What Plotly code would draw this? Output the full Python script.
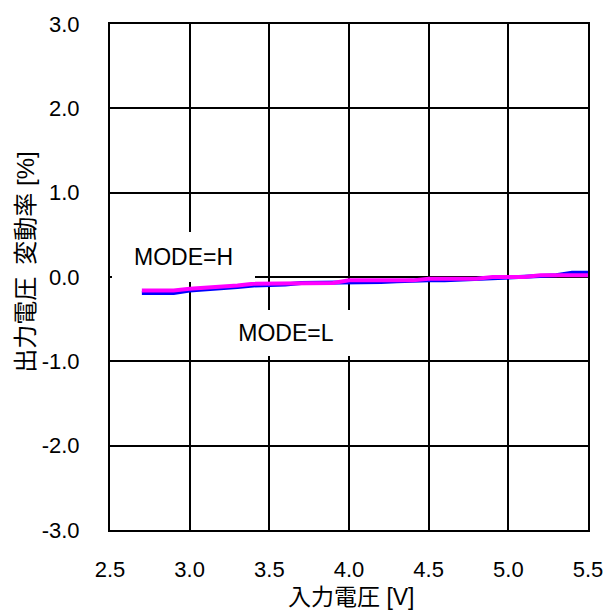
import plotly.graph_objects as go

# Data
vin = [2.7, 2.8, 2.9, 3.0, 3.1, 3.2, 3.3, 3.4, 3.5, 3.6, 3.7, 3.8, 3.9, 4.0,
       4.1, 4.2, 4.3, 4.4, 4.5, 4.6, 4.7, 4.8, 4.9, 5.0, 5.1, 5.2, 5.3, 5.4, 5.5]
mode_l = [-0.19, -0.19, -0.19, -0.16, -0.15, -0.14, -0.12, -0.10, -0.10, -0.09,
          -0.07, -0.07, -0.07, -0.07, -0.06, -0.06, -0.05, -0.04, -0.04, -0.04,
          -0.03, -0.02, -0.01, 0.00, 0.00, 0.01, 0.02, 0.05, 0.05]
mode_h = [-0.16, -0.16, -0.16, -0.14, -0.13, -0.12, -0.10, -0.08, -0.08, -0.07,
          -0.07, -0.07, -0.07, -0.04, -0.04, -0.04, -0.04, -0.04, -0.02, -0.02,
          -0.02, -0.02, 0.00, 0.00, 0.00, 0.02, 0.02, 0.02, 0.02]

x_ticks = [2.5, 3.0, 3.5, 4.0, 4.5, 5.0, 5.5]
y_ticks = [-3.0, -2.0, -1.0, 0.0, 1.0, 2.0, 3.0]
x_title = "入力電圧 [V]"
y_title = "出力電圧\u2002変動率 [%]"

FONT = "Liberation Sans, Arial, Noto Sans CJK JP, sans-serif"

fig = go.Figure()
fig.add_trace(go.Scatter(x=vin, y=mode_l, mode="lines", name="MODE=L",
                         line=dict(color="#0000FF", width=4)))
fig.add_trace(go.Scatter(x=vin, y=mode_h, mode="lines", name="MODE=H",
                         line=dict(color="#FF00FF", width=4)))

fig.add_annotation(x=2.96, y=0.24, xref="x", yref="y", text="MODE=H",
                   showarrow=False, bgcolor="white", width=143, height=50,
                   borderpad=0, borderwidth=0,
                   font=dict(family=FONT, size=23, color="black"))
fig.add_annotation(x=3.607, y=-0.66, xref="x", yref="y", text="MODE=L",
                   showarrow=False, bgcolor="white", width=146, height=46,
                   borderpad=0, borderwidth=0,
                   font=dict(family=FONT, size=23, color="black"))

# axis titles
fig.add_annotation(x=0.505, y=-0.1316, xref="paper", yref="paper", text=x_title,
                   showarrow=False, xanchor="center", yanchor="middle",
                   font=dict(family=FONT, size=23, color="black"))
fig.add_annotation(x=-0.176, y=0.53, xref="paper", yref="paper", text=y_title,
                   showarrow=False, xanchor="center", yanchor="middle",
                   textangle=-90,
                   font=dict(family=FONT, size=24, color="black"))

fig.update_layout(
    width=615, height=614,
    margin=dict(l=110, r=16, t=17, b=84),
    paper_bgcolor="white", plot_bgcolor="white",
    showlegend=False,
    font=dict(family=FONT, size=22, color="black"),
)
fig.update_xaxes(
    range=[2.5, 5.5], tickvals=x_ticks, ticktext=[f"{v:.1f}" for v in x_ticks],
    showgrid=True, gridcolor="black", gridwidth=1.5,
    showline=True, linecolor="black", linewidth=2, mirror=True,
    ticks="inside", ticklen=4, tickcolor="black", zeroline=False,
    ticklabelstandoff=19,
)
fig.update_yaxes(
    range=[-3.0, 3.0], tickvals=y_ticks, ticktext=[f"{v:.1f}" for v in y_ticks],
    showgrid=True, gridcolor="black", gridwidth=1.5,
    showline=True, linecolor="black", linewidth=2, mirror=True,
    ticks="inside", ticklen=4, tickcolor="black", zeroline=False,
    ticklabelstandoff=24,
)

fig.write_html(
    "out.html",
    config={"displayModeBar": False},
    post_script="document.body.style.margin='0';document.body.style.padding='0';"
                "document.body.style.overflow='hidden';",
)
